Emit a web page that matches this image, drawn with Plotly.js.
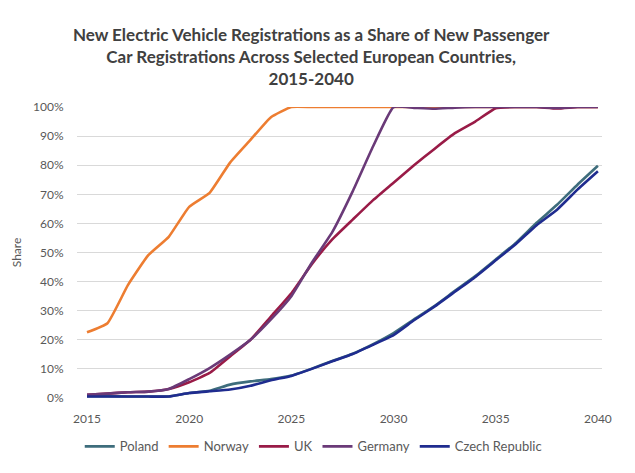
<!DOCTYPE html>
<html>
<head>
<meta charset="utf-8">
<script src="https://cdn.plot.ly/plotly-3.0.1.min.js"></script>
<style>html,body{margin:0;padding:0;background:#fff}#chart{width:635px;height:473px}</style>
</head>
<body>
<div id="chart"></div>
<script>
const years = [2015,2016,2017,2018,2019,2020,2021,2022,2023,2024,2025,2026,2027,2028,2029,2030,2031,2032,2033,2034,2035,2036,2037,2038,2039,2040];
const poland  = [0.6,0.6,0.5,0.5,0.5,1.7,2.5,4.6,5.7,6.5,7.7,10.1,12.7,15.2,18.5,22.3,27.0,31.6,36.8,41.9,47.6,53.4,60.2,66.4,73.3,79.8];
const norway  = [22.6,25.7,38.8,49.1,55.4,65.7,70.5,80.9,88.7,96.5,100,100,100,100,100,100,100,100,100,100,100,100,100,100,100,100];
const uk      = [1.1,1.5,2.0,2.2,3.1,5.4,8.6,14.3,20.0,28.0,36.0,46.0,54.5,61.3,68.0,74.0,80.0,85.6,91.0,95.0,99.6,100,100,99.5,100,100];
const germany = [1.1,1.5,2.0,2.2,3.1,6.5,10.3,14.9,20.0,27.0,35.0,46.5,57.0,71.0,86.5,100,99.7,99.4,99.8,100,100,100,100,99.7,100,100];
const czech   = [0.5,0.5,0.5,0.5,0.5,1.7,2.3,2.9,4.2,6.1,7.6,10.0,12.6,15.1,18.3,21.6,26.7,31.4,36.5,41.6,47.3,53.0,59.4,64.7,71.6,77.9];

const names  = ['Poland','Norway','UK','Germany','Czech Republic'];
const series = [poland, norway, uk, germany, czech];
const colors = ['#3e6d7c','#ed7d31','#991b47','#6a3a78','#1f2c8f'];
const yTickVals = [0,10,20,30,40,50,60,70,80,90,100];
const yTickText = ['0%','10%','20%','30%','40%','50%','60%','70%','80%','90%','100%'];
const xTickVals = [2015,2020,2025,2030,2035,2040];

const traces = series.map((s,i)=>({
  x: years, y: s, name: names[i], type:'scatter', mode:'lines',
  line:{color:colors[i], width:2.6, shape:'spline', smoothing:0.4}
}));

const layout = {
  width:635, height:473,
  margin:{l:77, r:33, t:107, b:75},
  paper_bgcolor:'#fff', plot_bgcolor:'#fff',
  font:{family:'Lato, "Liberation Sans", sans-serif', color:'#595959', size:12},
  title:{text:'New Electric Vehicle Registrations as a Share of New Passenger<br>Car Registrations Across Selected European Countries,<br>2015-2040',
    font:{size:17, color:'#404040', family:'Lato, "Liberation Sans", sans-serif', weight:'bold'},
    x:0.49, xanchor:'center', y:0.914, yanchor:'top'},
  xaxis:{range:[2014.51,2040.2], tickvals:xTickVals, showgrid:false, zeroline:false,
    showline:false, ticks:'outside', ticklen:10, tickcolor:'rgba(0,0,0,0)', tickfont:{size:12,color:'#595959'}},
  yaxis:{range:[0,100], tickvals:yTickVals, ticktext:yTickText, tickmode:'array', gridcolor:'#d9d9d9', gridwidth:1,
    zeroline:false, showline:false, ticks:'outside', ticklen:10, tickcolor:'rgba(0,0,0,0)', tickfont:{size:12,color:'#595959'},
    title:{text:'Share', font:{size:12,color:'#595959'}, standoff:8}},
  legend:{orientation:'h', x:0.45, xanchor:'center', y:-0.115, yanchor:'top', font:{size:13,color:'#595959'}, itemwidth:30, tracegroupgap:0},
  showlegend:true
};
Plotly.newPlot('chart', traces, layout, {displayModeBar:false, staticPlot:true});
</script>
</body>
</html>
